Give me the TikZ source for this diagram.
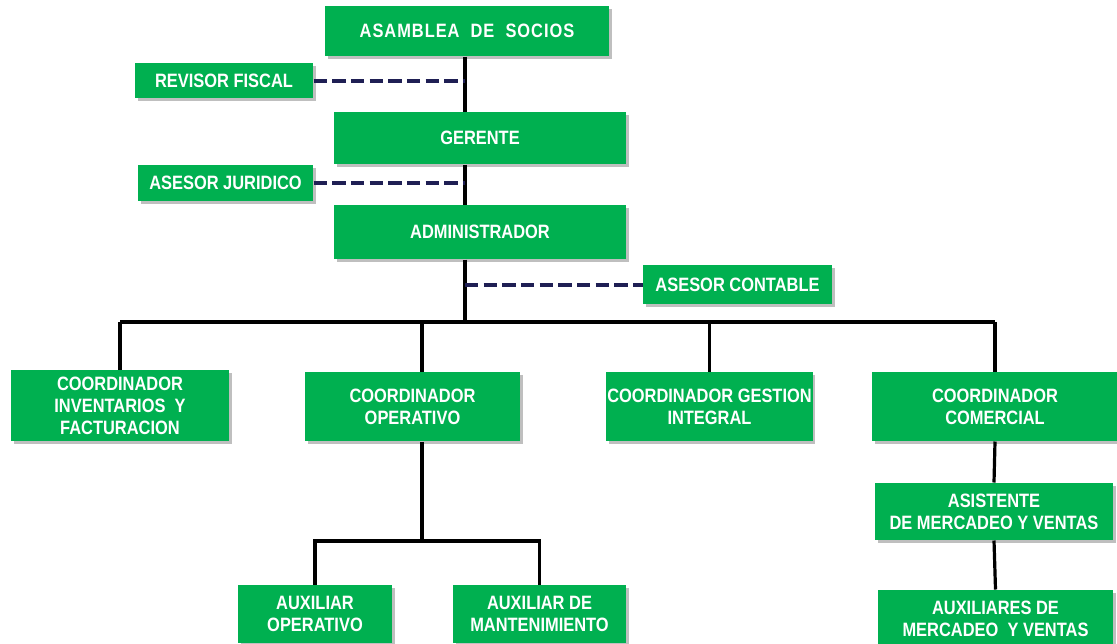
\documentclass[tikz,border=0pt]{standalone}
\usepackage{fontspec}
\setmainfont{Liberation Sans}[FakeStretch=0.85]
\usetikzlibrary{shadows}

\definecolor{boxgreen}{RGB}{0,176,80}
\definecolor{dashnavy}{RGB}{31,31,84}

\tikzset{every picture/.style={line width=0.75pt}}
\tikzset{
  orgbox/.style={draw=none, fill=boxgreen, text=white, align=center, inner sep=0.75pt,
    font=\fontsize{14.5}{16.5}\selectfont\bfseries,
    drop shadow={shadow xshift=2pt, shadow yshift=-2pt, fill=black, opacity=0.25}},
  solidlink/.style={draw=black, line width=2.4pt},
  staffline/.style={draw=dashnavy, line width=3pt, dash pattern=on 10pt off 4pt}
}

\begin{document}
\begin{tikzpicture}[x=0.75pt,y=0.75pt,yscale=-1,xscale=1]
\useasboundingbox (0,0) rectangle (1117,643);

%Coordinates of the trunk and the operative split
\coordinate (trunk) at (465,322);
\coordinate (opx) at (422,541);

% Text Node
\node [orgbox, minimum width=213pt, minimum height=37.5pt] (asamblea) at (467,31) {\addfontfeature{LetterSpace=5}ASAMBLEA~ DE~ SOCIOS};
% Text Node
\node [orgbox, minimum width=133.5pt, minimum height=26.25pt] (revisor) at (224,80.5) {REVISOR FISCAL};
% Text Node
\node [orgbox, minimum width=219pt, minimum height=39pt] (gerente) at (480,138) {GERENTE};
% Text Node
\node [orgbox, minimum width=131.25pt, minimum height=27pt] (juridico) at (225.5,183) {ASESOR JURIDICO};
% Text Node
\node [orgbox, minimum width=219pt, minimum height=40.5pt] (admin) at (480,232) {ADMINISTRADOR};
% Text Node
\node [orgbox, minimum width=141.75pt, minimum height=29.25pt] (contable) at (737.5,284.5) {ASESOR CONTABLE};

% Text Node
\node [orgbox, minimum width=163.5pt, minimum height=53.25pt] (inventarios) at (120,405.5) {COORDINADOR\\INVENTARIOS~ Y\\FACTURACION};
% Text Node
\node [orgbox, minimum width=161.25pt, minimum height=51.75pt] (operativo) at (412.5,406.5) {COORDINADOR\\OPERATIVO};
% Text Node
\node [orgbox, minimum width=152.25pt, minimum height=51.75pt] (gestion) at (709.5,406.5) {COORDINADOR GESTION\\INTEGRAL};
% Text Node
\node [orgbox, minimum width=184.5pt, minimum height=51.75pt] (comercial) at (995,406.5) {COORDINADOR\\COMERCIAL};

% Text Node
\node [orgbox, minimum width=178.5pt, minimum height=42.75pt] (asistente) at (994,511.5) {ASISTENTE\\DE MERCADEO Y VENTAS};
% Text Node
\node [orgbox, minimum width=176.25pt, minimum height=43.5pt] (auxventas) at (995.5,619) {AUXILIARES DE\\MERCADEO~ Y VENTAS};
% Text Node
\node [orgbox, minimum width=115.5pt, minimum height=43.5pt] (auxop) at (315,614) {AUXILIAR\\OPERATIVO};
% Text Node
\node [orgbox, minimum width=129.75pt, minimum height=43.5pt] (auxmant) at (539.5,614) {AUXILIAR DE\\MANTENIMIENTO};

%Straight Lines: main trunk
\draw [solidlink] (trunk |- asamblea.south) -- (trunk |- gerente.north);
\draw [solidlink] (trunk |- gerente.south) -- (trunk |- admin.north);
\draw [solidlink] (trunk |- admin.south) -- (trunk);

%Straight Lines: staff advisers
\draw [staffline] (revisor.east) -- (revisor.east -| trunk);
\draw [staffline] (juridico.east) -- (juridico.east -| trunk);
\draw [staffline] (trunk |- contable.west) -- (contable.west);

%Straight Lines: coordinators bus
\draw [solidlink] (inventarios.north |- trunk) -- (comercial.north |- trunk);
\draw [solidlink] (inventarios.north |- trunk) -- (inventarios.north);
\draw [solidlink] (opx |- trunk) -- (opx |- operativo.north);
\draw [solidlink] (gestion.north |- trunk) -- (gestion.north);
\draw [solidlink] (comercial.north |- trunk) -- (comercial.north);

%Straight Lines: operative branch
\draw [solidlink] (opx |- operativo.south) -- (opx);
\draw [solidlink] (auxop.north) -- (auxop.north |- opx) -- (auxmant.north |- opx) -- (auxmant.north);

%Straight Lines: commercial branch
\draw [solidlink] (comercial.south) -- (asistente.north);
\draw [solidlink] (asistente.south) -- (auxventas.north);

\end{tikzpicture}
\end{document}
